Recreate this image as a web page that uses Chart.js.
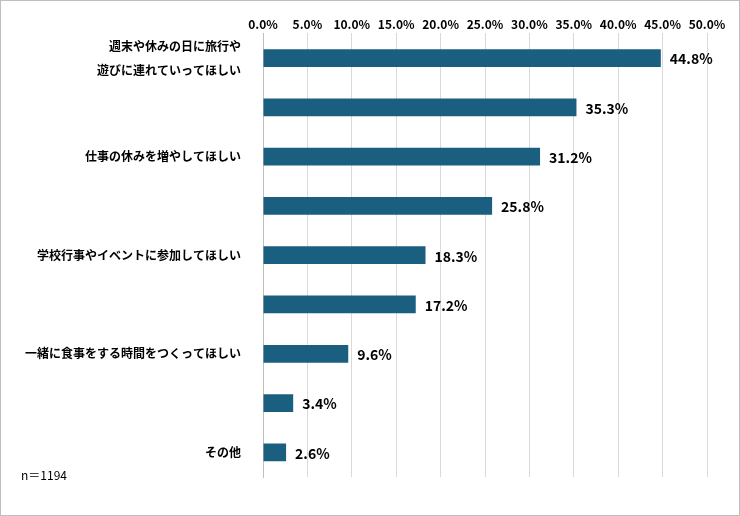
<!DOCTYPE html>
<html><head><meta charset="utf-8">
<script src="https://cdn.jsdelivr.net/npm/chart.js@4"></script>
<style>html,body{margin:0;padding:0;background:#fff}#w{width:738px;height:514px;border:1px solid #bfbfbf;position:relative}</style>
</head><body><div id="w"><canvas id="c"></canvas></div>
<script>
const categories=[["週末や休みの日に旅行や","遊びに連れていってほしい"],"早く帰ってきてほしい","仕事の休みを増やしてほしい","ない（十分に一緒にいる時間がある）","学校行事やイベントに参加してほしい","私の話を聞く時間をつくってほしい","一緒に食事をする時間をつくってほしい","わからない","その他"];
const values=[44.8,35.3,31.2,25.8,18.3,17.2,9.6,3.4,2.6];
const noteText="n＝1194";
const F='"Noto Sans CJK JP", "Noto Sans", sans-serif';
const labelsPlugin={id:'lbl',afterDatasetsDraw(ch){const c=ch.ctx;const m=ch.getDatasetMeta(0);c.save();c.font='bold 14px '+F;c.fillStyle='#000';c.textBaseline='middle';m.data.forEach((b,i)=>{c.fillText(values[i].toFixed(1)+'%',b.x+9,b.y+1);});c.font='12px '+F;c.fillText(noteText,20,474);c.restore();}};
new Chart(document.getElementById('c'),{type:'bar',data:{labels:categories,datasets:[{data:values,backgroundColor:'#1a5e80',barPercentage:0.36,categoryPercentage:1}]},
options:{indexAxis:'y',responsive:true,maintainAspectRatio:false,animation:false,layout:{padding:{top:14,right:32,bottom:2,left:10}},
plugins:{legend:{display:false},tooltip:{enabled:false}},
scales:{x:{position:'top',min:0,max:50,ticks:{stepSize:5,callback:v=>v.toFixed(1)+'%',color:'#000',font:{family:F,size:12,weight:'bold'},padding:2,maxRotation:0},grid:{color:'#d9d9d9',drawTicks:false},border:{display:false}},
y:{ticks:{color:'#000',font:{family:F,size:12,weight:'bold',lineHeight:2},padding:14},grid:{display:false},border:{color:'#bfbfbf'}}}},
plugins:[labelsPlugin]});
</script></body></html>
